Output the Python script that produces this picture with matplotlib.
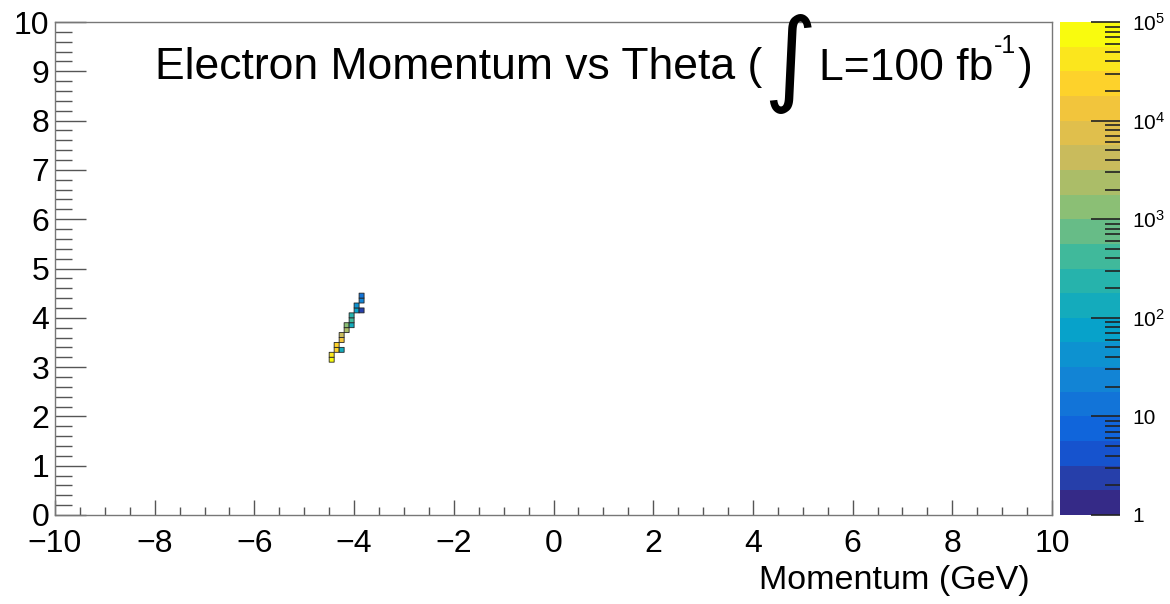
import numpy as np
import matplotlib.pyplot as plt
from matplotlib.colors import LinearSegmentedColormap, ListedColormap, BoundaryNorm
from matplotlib.ticker import MultipleLocator, LogLocator, NullFormatter

# ROOT-style fonts (Helvetica metrics)
plt.rcParams['font.family'] = ['Liberation Sans', 'DejaVu Sans']
plt.rcParams['mathtext.fontset'] = 'custom'
plt.rcParams['mathtext.rm'] = 'Liberation Sans'
plt.rcParams['mathtext.it'] = 'Liberation Sans:italic'
plt.rcParams['mathtext.sf'] = 'Liberation Sans'

# filled bins: momentum (GeV), theta, entries
mom = [-4.45, -4.45, -4.35, -4.35, -4.25, -4.25, -4.25, -4.15, -4.15,
       -4.05, -4.05, -4.05, -3.95, -3.95, -3.85, -3.85, -3.85]
theta = [3.15, 3.25, 3.35, 3.45, 3.35, 3.55, 3.65, 3.75, 3.85,
         3.85, 3.95, 4.05, 4.15, 4.25, 4.15, 4.35, 4.45]
entries = [7e4, 5e4, 3e4, 2.2e4, 150, 1.2e4, 5e3, 2e3, 1e3,
           120, 400, 250, 80, 50, 2, 30, 15]

cbar_labels = ['1', '10', '$10^{2}$', '$10^{3}$', '$10^{4}$', '$10^{5}$']

# ROOT kBird palette
stops = [0.0, 0.125, 0.25, 0.375, 0.5, 0.625, 0.75, 0.875, 1.0]
red = [0.2082, 0.0592, 0.0780, 0.0232, 0.1802, 0.5301, 0.8186, 0.9956, 0.9764]
green = [0.1664, 0.3599, 0.5041, 0.6419, 0.7178, 0.7492, 0.7328, 0.7862, 0.9832]
blue = [0.5293, 0.8684, 0.8385, 0.7914, 0.6425, 0.4662, 0.3499, 0.1968, 0.0539]
bird = LinearSegmentedColormap.from_list('bird', list(zip(stops, zip(red, green, blue))))

nlev = 20
levels = np.logspace(0, 5, nlev + 1)
cmap = ListedColormap(bird(np.linspace(0, 1, nlev)))
norm = BoundaryNorm(levels, nlev)

W, H = 1170, 604
fig = plt.figure(figsize=(W / 100, H / 100), dpi=100)
ax = fig.add_axes([55 / W, 89 / H, 997 / W, 493 / H])

# 0.1 x 0.1 binning, empty bins left blank
xedges = np.linspace(-10, 10, 201)
yedges = np.linspace(0, 10, 101)
hist, _, _ = np.histogram2d(mom, theta, bins=[xedges, yedges], weights=entries)
hist = np.ma.masked_less(hist, 0.5)
mesh = ax.pcolor(xedges, yedges, hist.T, cmap=cmap, norm=norm,
                 edgecolors='#222222', linewidth=0.6)

ax.set_xlim(-10, 10)
ax.set_ylim(0, 10)
ax.xaxis.set_major_locator(MultipleLocator(2))
ax.xaxis.set_minor_locator(MultipleLocator(0.5))
ax.yaxis.set_major_locator(MultipleLocator(1))
ax.yaxis.set_minor_locator(MultipleLocator(0.2))
ax.tick_params(which='both', direction='in', top=False, right=False,
               color='#555555', width=1.0, labelsize=23, labelcolor='black')
ax.tick_params(axis='x', which='major', length=11, pad=10)
ax.tick_params(axis='x', which='minor', length=6)
ax.tick_params(axis='y', which='major', length=22, pad=4)
ax.tick_params(axis='y', which='minor', length=12)
for s in ax.spines.values():
    s.set_color('#777777')
    s.set_linewidth(1.0)

# palette axis
cax = fig.add_axes([1060 / W, 89 / H, 60 / W, 493 / H])
cax.pcolormesh([0, 1], levels, levels[:-1].reshape(-1, 1), cmap=cmap, norm=norm)
cax.set_yscale('log')
cax.set_ylim(1, 1e5)
cax.set_xlim(0, 1)
cax.set_xticks([])
cax.yaxis.tick_right()
cax.set_yticks([1, 10, 1e2, 1e3, 1e4, 1e5])
cax.set_yticklabels(cbar_labels)
cax.yaxis.set_minor_locator(LogLocator(base=10, subs=np.arange(2, 10)))
cax.yaxis.set_minor_formatter(NullFormatter())
cax.tick_params(axis='y', which='both', direction='in', color='#222222', labelsize=15, pad=9)
cax.tick_params(axis='y', which='major', length=21, width=1.2)
cax.tick_params(axis='y', which='minor', length=11, width=1.2)
for s in cax.spines.values():
    s.set_visible(False)

# title built from pieces so the integral sign can be tall
renderer = fig.canvas.get_renderer()
ty = 1 - 68 / H
t1 = fig.text(155 / W, ty, 'Electron Momentum vs Theta (', ha='left', va='center', fontsize=32)
x = t1.get_window_extent(renderer).x1 / W
t2 = fig.text(x + 1 / W, ty + 5 / H, '\u222b', ha='left', va='center', fontsize=74,
              family='DejaVu Sans')
x = t2.get_window_extent(renderer).x1 / W
t3 = fig.text(x + 2 / W, ty, 'L=100 fb', ha='left', va='center', fontsize=32)
x = t3.get_window_extent(renderer).x1 / W
t4 = fig.text(x + 1 / W, ty + 22 / H, '-1', ha='left', va='center', fontsize=18)
x = t4.get_window_extent(renderer).x1 / W
fig.text(x + 1 / W, ty, ')', ha='left', va='center', fontsize=32)

fig.text(1030 / W, 1 - 580 / H, 'Momentum (GeV)', ha='right', va='center', fontsize=24.5)

fig.savefig('out.png', dpi=100)
